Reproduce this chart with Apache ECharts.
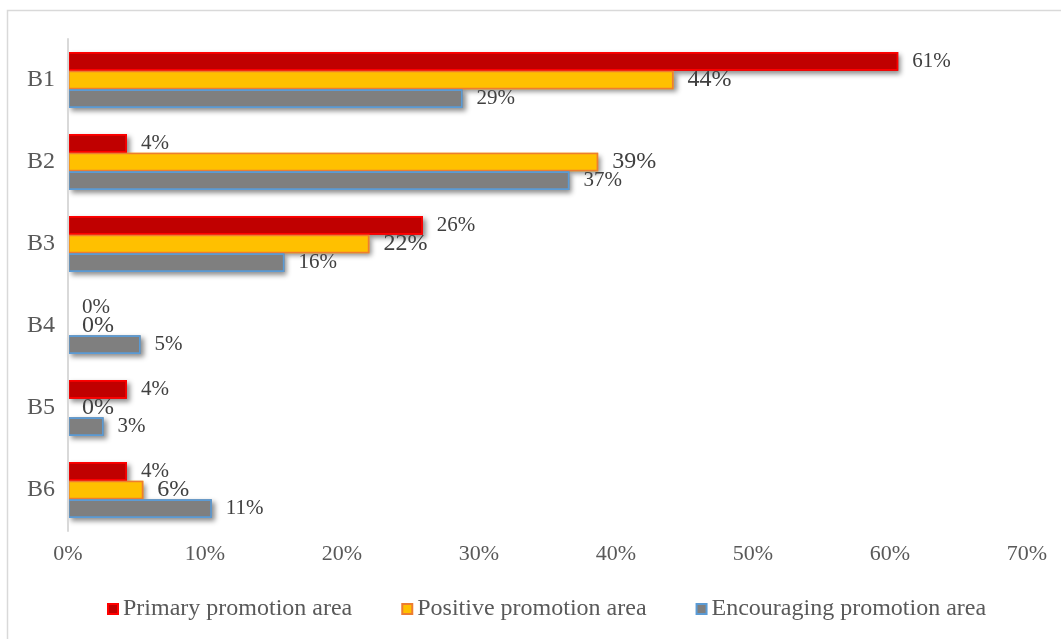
<!DOCTYPE html>
<html>
<head>
<meta charset="utf-8">
<style>
  html, body { margin: 0; padding: 0; background: #fff; }
  #chart { width: 1061px; height: 639px; }
</style>
<script src="https://cdn.jsdelivr.net/npm/echarts@6/dist/echarts.min.js"></script>
</head>
<body>
<div id="chart"></div>
<script>
// Promotion-area shares per item (percent)
const categories = ['B1', 'B2', 'B3', 'B4', 'B5', 'B6'];
const primary = [60.6, 4.3, 25.9, 0, 4.3, 4.3];
const positive = [44.2, 38.7, 22.0, 0, 0, 5.5];
const encouraging = [28.8, 36.6, 15.8, 5.3, 2.6, 10.5];
const seriesNames = ['Primary promotion area', 'Positive promotion area', 'Encouraging promotion area'];
const xTicks = { min: 0, max: 70, interval: 10 };

const FONT = '"Liberation Serif", "Times New Roman", serif';
const styles = [
  { fill: '#C00000', border: '#FF0000', labelSize: 21 },
  { fill: '#FFC000', border: '#ED7D31', labelSize: 24 },
  { fill: '#7F7F7F', border: '#5B9BD5', labelSize: 21 }
];
const values = [primary, positive, encouraging];

const chart = echarts.init(document.getElementById('chart'));

// zero-length bars keep their value label but draw no outline
function toItems(vals) {
  return vals.map(v => v === 0 ? { value: v, itemStyle: { borderWidth: 0, opacity: 0 } } : v);
}

const barLayout = { barGap: '0%', barCategoryGap: '32%' };

// drop shadows live on a second, hidden category axis so the outlined bars sit cleanly on top
const shadowSeries = values.map((vals, i) => Object.assign({
  name: 'shadow-' + i,
  type: 'bar',
  yAxisIndex: 1,
  silent: true,
  z: 1,
  data: vals.map(v => v === 0 ? { value: v, itemStyle: { opacity: 0 } } : v),
  itemStyle: {
    color: styles[i].fill,
    shadowColor: 'rgba(0,0,0,0.45)',
    shadowBlur: 5,
    shadowOffsetX: 3,
    shadowOffsetY: 3
  },
  label: { show: false }
}, barLayout));

const mainSeries = values.map((vals, i) => Object.assign({
  name: seriesNames[i],
  type: 'bar',
  yAxisIndex: 0,
  z: 3,
  data: toItems(vals),
  itemStyle: {
    color: styles[i].fill,
    borderColor: styles[i].border,
    borderWidth: 1.6
  },
  label: {
    show: true,
    position: 'right',
    distance: 14,
    fontFamily: FONT,
    fontSize: styles[i].labelSize,
    color: '#404040',
    opacity: 1,
    formatter: p => Math.round(p.value) + '%'
  }
}, barLayout));

const yBase = {
  type: 'category',
  data: categories,
  inverse: true,
  axisTick: { show: false }
};

chart.setOption({
  backgroundColor: '#fff',
  animation: false,
  graphic: [{
    type: 'rect',
    shape: { x: 7.5, y: 10.5, width: 1100, height: 700 },
    style: { fill: 'none', stroke: '#d9d9d9', lineWidth: 1.5 },
    silent: true
  }],
  grid: { left: 68, right: 34, top: 39, bottom: 108 },
  xAxis: {
    type: 'value',
    min: xTicks.min,
    max: xTicks.max,
    interval: xTicks.interval,
    axisLine: { show: false },
    axisTick: { show: false },
    splitLine: { show: false },
    axisLabel: {
      formatter: '{value}%',
      fontFamily: FONT,
      fontSize: 22,
      color: '#595959',
      margin: 12
    }
  },
  yAxis: [
    Object.assign({}, yBase, {
      axisLine: { show: true, lineStyle: { color: '#d9d9d9', width: 2 } },
      axisLabel: { fontFamily: FONT, fontSize: 24, color: '#595959', margin: 13 },
      z: 4
    }),
    Object.assign({}, yBase, {
      position: 'left',
      axisLine: { show: false },
      axisLabel: { show: false },
      splitLine: { show: false }
    })
  ],
  legend: {
    left: 102,
    top: 592,
    itemWidth: 10,
    itemHeight: 10,
    itemGap: 49,
    icon: 'rect',
    textStyle: { fontFamily: FONT, fontSize: 24, color: '#595959' },
    data: seriesNames.map(n => ({ name: n, itemStyle: { opacity: 1 } }))
  },
  series: shadowSeries.concat(mainSeries)
});
</script>
</body>
</html>
